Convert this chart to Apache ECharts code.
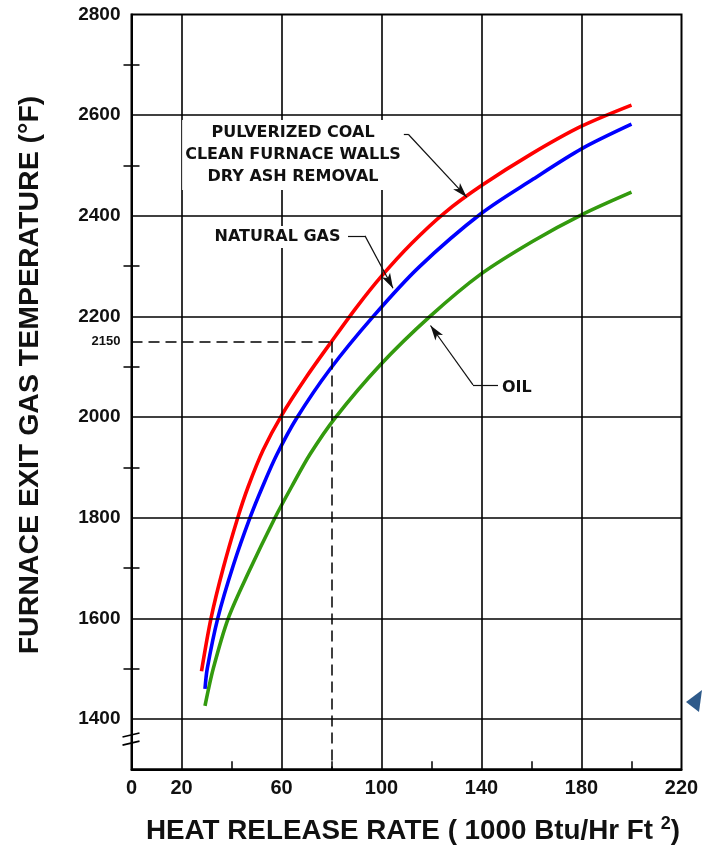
<!DOCTYPE html>
<html><head><meta charset="utf-8">
<script src="https://cdn.jsdelivr.net/npm/echarts@6/dist/echarts.min.js"></script>
<style>html,body{margin:0;padding:0;background:#fff}#c{width:702px;height:847px}</style>
</head><body><div id="c"></div>
<script>
// ---- data ----
const coalData = [[28,1495],[31.8,1600],[36.7,1700],[42.5,1800],[46.7,1862],[52.7,1935],[60,2003],[70,2080],[80,2150],[90,2218],[100,2280],[112,2345],[125,2405],[140,2460],[160,2523],[180,2578],[200,2620]];
const gasData = [[29.4,1460],[30.3,1500],[34.5,1600],[40.7,1705],[47.4,1800],[52.7,1865],[58.1,1925],[66.1,1998],[79.4,2095],[96.7,2200],[115,2298],[140,2405],[160.7,2473],[180,2533],[200,2582]];
const oilData = [[29.4,1426],[32.7,1500],[38.7,1600],[46.7,1690],[57.4,1800],[64.1,1862],[71.4,1926],[81.4,1998],[99.4,2103],[119.4,2200],[140,2285],[160.7,2350],[180,2402],[200,2447]];
const xGridValues = [20,60,100,140,180];
const yGridValues = [1400,1600,1800,2000,2200,2400,2600];
const xLabelValues = [0,20,60,100,140,180,220];
const xTickValues = [40,80,120,160,200];
const yLabelValues = [1400,1600,1800,2000,2150,2200,2400,2600,2800];
const yTickValues = [1500,1700,1900,2100,2300,2500,2700];
const refPoint = [80,2150];
const breakValues = [1368,1352];

const FONT = '"Liberation Sans", Arial, Helvetica, sans-serif';
const ANN_FONT = '"DejaVu Sans", Verdana, sans-serif';
const TXT = '#111';
const chart = echarts.init(document.getElementById('c'));

function curve(name, data, color){
  return {name, type:'line', data, showSymbol:false, smooth:0.3,
    lineStyle:{color, width:3.6}, z:3, silent:true, animation:false};
}

const option = {
  animation:false,
  grid:{left:131.5, right:20.5, top:14.5, bottom:77.7, show:true, borderColor:'#000', borderWidth:2, backgroundColor:'transparent'},
  xAxis:{type:'value', min:0, max:220, interval:20,
    axisLine:{show:true, onZero:false, lineStyle:{color:'#000', width:2}},
    axisTick:{show:true, inside:true, length:8, customValues:xTickValues, lineStyle:{color:'#000', width:1.5}},
    axisLabel:{customValues:xLabelValues, color:TXT, fontSize:20, fontFamily:FONT, fontWeight:'bold', margin:9},
    splitLine:{show:false}},
  yAxis:[
    {type:'value', min:1300, max:2800, interval:100,
     axisLine:{show:true, onZero:false, lineStyle:{color:'#000', width:2}},
     axisTick:{show:true, length:8, customValues:yTickValues, lineStyle:{color:'#000', width:1.5}},
     axisLabel:{customValues:yLabelValues, color:TXT, fontSize:19, fontFamily:FONT, fontWeight:'bold', margin:11,
       formatter:v => v===2150 ? '{s|2150}' : String(v),
       rich:{s:{fontSize:13, fontFamily:FONT, color:TXT}}},
     splitLine:{show:false}},
    {type:'value', min:1300, max:2800, interval:100, position:'left',
     axisLine:{show:false},
     axisTick:{show:true, inside:true, length:8, customValues:yTickValues, lineStyle:{color:'#000', width:1.5}},
     axisLabel:{show:false}, splitLine:{show:false}}
  ],
  series:[
    {name:'grid', type:'line', data:[], z:1, silent:true,
     markLine:{silent:true, symbol:'none', animation:false, label:{show:false},
       lineStyle:{color:'#000', width:1.6, type:'solid'},
       data:[...xGridValues.map(v=>({xAxis:v})), ...yGridValues.map(v=>({yAxis:v}))]}},
    {name:'ref', type:'line', data:[], z:2, silent:true,
     markLine:{silent:true, symbol:'none', animation:false, label:{show:false},
       lineStyle:{color:'#000', width:1.5, type:[11,6]},
       data:[[{coord:[0,refPoint[1]]},{coord:refPoint}],[{coord:refPoint},{coord:[refPoint[0],1300]}]]}},
    curve('PULVERIZED COAL', coalData, '#ff0000'),
    curve('NATURAL GAS', gasData, '#0000ff'),
    curve('OIL', oilData, '#339a0e'),
    {name:'leaders', type:'line', data:[], z:5, silent:true,
     markLine:{silent:true, animation:false, label:{show:false}, symbol:['none','none'],
       lineStyle:{color:'#111', width:1.2, type:'solid'},
       data:[
         [{coord:[100.6,2562]},{coord:[110.7,2562]}],
         [{coord:[110.7,2562]},{coord:[134.1,2437], symbol:'arrow', symbolSize:[7,15]}],
         [{coord:[86.6,2360]},{coord:[93.4,2360]}],
         [{coord:[93.4,2360]},{coord:[104.6,2256], symbol:'arrow', symbolSize:[7,15]}],
         [{coord:[146.6,2064]},{coord:[136.6,2064]}],
         [{coord:[136.6,2064]},{coord:[119.6,2182], symbol:'arrow', symbolSize:[7,15]}]
       ]}}
  ]
};
chart.setOption(option);

function px(p){ return chart.convertToPixel({xAxisIndex:0, yAxisIndex:0}, p); }
const annFont = {fontFamily:ANN_FONT, fontWeight:'bold', fontSize:16, fill:TXT};
const coalPos = px([64.6,2521]);
const gasPos = px([84.4,2358]);
const oilPos = px([148.2,2058]);
const b1a = px([0,breakValues[0]]), b2a = px([0,breakValues[1]]);
const elems = [
  {type:'text', x:coalPos[0], y:coalPos[1], z:10,
   style:Object.assign({text:'PULVERIZED COAL\nCLEAN FURNACE WALLS\nDRY ASH REMOVAL', align:'center', verticalAlign:'middle',
     lineHeight:22, backgroundColor:'#fff', padding:[2,3,2,3]}, annFont)},
  {type:'text', x:gasPos[0], y:gasPos[1], z:10,
   style:Object.assign({text:'NATURAL GAS', align:'right', verticalAlign:'middle', backgroundColor:'#fff', padding:[3,2,3,2]}, annFont)},
  {type:'text', x:oilPos[0], y:oilPos[1], z:10,
   style:Object.assign({text:'OIL', align:'left', verticalAlign:'middle'}, annFont)},
  {type:'line', z:10, shape:{x1:b1a[0]-9, y1:b1a[1]+2, x2:b1a[0]+8, y2:b1a[1]-2}, style:{stroke:'#000', lineWidth:1.6}},
  {type:'line', z:10, shape:{x1:b2a[0]-9, y1:b2a[1]+2, x2:b2a[0]+8, y2:b2a[1]-2}, style:{stroke:'#000', lineWidth:1.6}},
  {type:'text', x:30, y:375, rotation:Math.PI/2, z:10,
   style:{text:'FURNACE EXIT GAS TEMPERATURE (°F)', align:'center', verticalAlign:'middle',
     fontFamily:FONT, fontWeight:'bold', fontSize:28.5, fill:TXT}},
  {type:'text', x:413, y:831, z:10,
   style:{text:'HEAT RELEASE RATE ( 1000 Btu/Hr Ft {sup|2})', align:'center', verticalAlign:'middle',
     fontFamily:FONT, fontWeight:'bold', fontSize:27.8, fill:TXT,
     rich:{sup:{fontFamily:FONT, fontWeight:'bold', fontSize:18, fill:TXT, padding:[0,0,14,0]}}}},
  {type:'polygon', z:10, shape:{points:[[686,702],[702,690],[699,712]]}, style:{fill:'#2e5a8a'}}
];
chart.setOption({graphic:{elements:elems}});
</script>
</body></html>
